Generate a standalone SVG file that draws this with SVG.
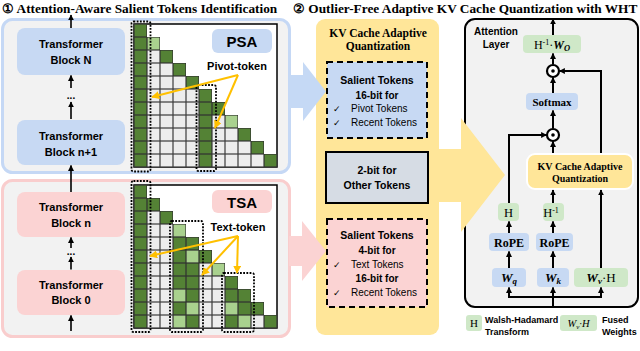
<svg xmlns="http://www.w3.org/2000/svg" width="640" height="351" viewBox="0 0 640 351">
<style>
.ttl{font-family:"Liberation Serif","DejaVu Serif",serif;font-weight:bold;font-size:13.3px;fill:#000}
.sb{font-family:"Liberation Sans","DejaVu Sans",sans-serif;font-weight:bold;fill:#000}
.sr{font-family:"Liberation Sans","DejaVu Sans",sans-serif;fill:#000}
.se{font-family:"Liberation Serif","DejaVu Serif",serif;fill:#000}
.blk-b{fill:#c7d9f3}
.blk-p{fill:#fbd3d3}
.grn{fill:#cfe8c8}
.ln{stroke:#000;stroke-width:1.6;fill:none}
.ln2{stroke:#000;stroke-width:2;fill:none}
.or{stroke:#ffc000;stroke-width:2;fill:none}
.dot{fill:none;stroke:#000;stroke-width:1.8;stroke-dasharray:1.8 1.4}
</style>
<defs>
<marker id="ah" markerUnits="userSpaceOnUse" viewBox="0 0 10 10" refX="9" refY="5" markerWidth="6" markerHeight="6" orient="auto"><path d="M0,0 L10,5 L0,10 z" fill="#000"/></marker>
<marker id="ao" markerUnits="userSpaceOnUse" viewBox="0 0 10 10" refX="9" refY="5" markerWidth="8" markerHeight="8" orient="auto"><path d="M0,0 L10,5 L0,10 z" fill="#ffc000"/></marker>
<pattern id="pg1" patternUnits="userSpaceOnUse" x="134" y="24" width="13" height="13"><rect width="13" height="13" fill="#ededed" stroke="#3a3a3a" stroke-width="1.2"/></pattern>
<pattern id="pd1" patternUnits="userSpaceOnUse" x="134" y="24" width="13" height="13"><rect width="13" height="13" fill="#548235" stroke="#2f2f2f" stroke-width="1.2"/></pattern>
<pattern id="pl1" patternUnits="userSpaceOnUse" x="134" y="24" width="13" height="13"><rect width="13" height="13" fill="#a9d18e" stroke="#2f2f2f" stroke-width="1.2"/></pattern>
<pattern id="pg2" patternUnits="userSpaceOnUse" x="134" y="185" width="13" height="13"><rect width="13" height="13" fill="#ededed" stroke="#3a3a3a" stroke-width="1.2"/></pattern>
<pattern id="pd2" patternUnits="userSpaceOnUse" x="134" y="185" width="13" height="13"><rect width="13" height="13" fill="#548235" stroke="#2f2f2f" stroke-width="1.2"/></pattern>
<pattern id="pl2" patternUnits="userSpaceOnUse" x="134" y="185" width="13" height="13"><rect width="13" height="13" fill="#a9d18e" stroke="#2f2f2f" stroke-width="1.2"/></pattern>
</defs>

<rect width="640" height="351" fill="#fff"/>

<!-- titles -->
<text class="ttl" x="2" y="12.5">① Attention-Aware Salient Tokens Identification</text>
<text class="ttl" x="293" y="12.5">② Outlier-Free Adaptive KV Cache Quantization with WHT</text>

<!-- panels -->
<g id="panel-psa">
<rect x="2.5" y="19.5" width="287" height="153" rx="10" fill="#f2f2f2" stroke="#c5d8f5" stroke-width="3"/>
</g>
<g id="panel-tsa">
<rect x="2.5" y="180.5" width="287" height="156" rx="10" fill="#f2f2f2" stroke="#f9cdcd" stroke-width="3"/>
</g>
<g id="panel-kvq">
<rect x="316" y="19" width="123" height="316" rx="9" fill="#ffe699"/>
</g>
<g id="panel-attn">
<rect x="465" y="19" width="173" height="288" rx="10" fill="#f2f2f2" stroke="#000" stroke-width="2"/>
</g>

<!-- big block arrows -->
<g id="big-arrows">
<path d="M289,75 L303,75 L303,62 L326,91.5 L303,121 L303,108 L289,108 Z" fill="#c5d9f5"/>
<path d="M289,236 L302,236 L302,221 L326,251 L302,281 L302,266 L289,266 Z" fill="#fbd3d3"/>
<path d="M438,149 L461,149 L461,118 L505,175 L461,232 L461,202 L438,202 Z" fill="#ffe699"/>
</g>

<!-- left blocks -->
<g id="block-N">
<rect class="blk-b" x="17" y="28" width="108" height="47" rx="8"/>
<text class="sb" x="71" y="48" font-size="11" text-anchor="middle">Transformer</text>
<text class="sb" x="71" y="64" font-size="11" text-anchor="middle">Block N</text>
</g>
<g id="block-n1">
<rect class="blk-b" x="17" y="120" width="108" height="45" rx="8"/>
<text class="sb" x="71" y="140" font-size="11" text-anchor="middle">Transformer</text>
<text class="sb" x="71" y="156" font-size="11" text-anchor="middle">Block n+1</text>
</g>
<g id="block-n">
<rect class="blk-p" x="17" y="192" width="108" height="45" rx="8"/>
<text class="sb" x="71" y="211" font-size="11" text-anchor="middle">Transformer</text>
<text class="sb" x="71" y="227" font-size="11" text-anchor="middle">Block n</text>
</g>
<g id="block-0">
<rect class="blk-p" x="17" y="270" width="108" height="45" rx="8"/>
<text class="sb" x="71" y="289" font-size="11" text-anchor="middle">Transformer</text>
<text class="sb" x="71" y="304" font-size="11" text-anchor="middle">Block 0</text>
</g>
<g id="left-dots">
<text class="sb" x="71" y="98.5" font-size="10" text-anchor="middle">...</text>
<text class="sb" x="71" y="254.5" font-size="10" text-anchor="middle">...</text>
</g>

<!-- PSA matrix -->
<g id="psa-matrix">
<rect x="134" y="24" width="143" height="143" fill="#fff" stroke="#000" stroke-width="1.5"/>
<polygon points="134,24 147,24 147,37 160,37 160,50 173,50 173,63 186,63 186,76 199,76 199,89 212,89 212,102 225,102 225,115 238,115 238,128 251,128 251,141 264,141 264,154 277,154 277,167 134,167" fill="url(#pg1)"/>
<rect x="134" y="24" width="13" height="143" fill="url(#pd1)"/>
<rect x="147" y="37" width="13" height="13" fill="url(#pl1)"/>
<rect x="160" y="50" width="13" height="13" fill="url(#pd1)"/>
<rect x="173" y="63" width="13" height="13" fill="url(#pd1)"/>
<rect x="186" y="76" width="13" height="13" fill="url(#pd1)"/>
<rect x="199" y="89" width="13" height="78" fill="url(#pd1)"/>
<rect x="212" y="102" width="13" height="13" fill="url(#pd1)"/>
<rect x="225" y="115" width="13" height="13" fill="url(#pl1)"/>
<rect x="238" y="128" width="13" height="13" fill="url(#pd1)"/>
<rect x="251" y="141" width="13" height="13" fill="url(#pd1)"/>
<rect x="264" y="154" width="13" height="13" fill="url(#pd1)"/>
<rect class="dot" x="131.5" y="21.5" width="19" height="150" rx="2"/>
<rect class="dot" x="196.5" y="85" width="19.5" height="86" rx="2"/>
</g>
<g id="psa-label">
<rect class="blk-b" x="212" y="29" width="60" height="24" rx="6"/>
<text class="sb" x="242" y="47" font-size="15" text-anchor="middle">PSA</text>
<text class="sb" x="237" y="70" font-size="11" text-anchor="middle">Pivot-token</text>
</g>

<!-- TSA matrix -->
<g id="tsa-matrix">
<rect x="134" y="185" width="143" height="143" fill="#fff" stroke="#000" stroke-width="1.5"/>
<polygon points="134,185 147,185 147,198 160,198 160,211 173,211 173,224 186,224 186,237 199,237 199,250 212,250 212,263 225,263 225,276 238,276 238,289 251,289 251,302 264,302 264,315 277,315 277,328 134,328" fill="url(#pg2)"/>
<rect x="134" y="185" width="13" height="143" fill="url(#pd2)"/>
<rect x="147" y="198" width="13" height="13" fill="url(#pd2)"/>
<rect x="160" y="211" width="13" height="13" fill="url(#pd2)"/>
<rect x="173" y="237" width="13" height="52" fill="url(#pd2)"/>
<rect x="173" y="302" width="13" height="13" fill="url(#pd2)"/>
<rect x="186" y="237" width="13" height="13" fill="url(#pd2)"/>
<rect x="186" y="263" width="13" height="39" fill="url(#pd2)"/>
<rect x="186" y="315" width="13" height="13" fill="url(#pd2)"/>
<rect x="199" y="250" width="13" height="13" fill="url(#pd2)"/>
<rect x="225" y="276" width="13" height="26" fill="url(#pd2)"/>
<rect x="225" y="315" width="13" height="13" fill="url(#pd2)"/>
<rect x="238" y="289" width="13" height="26" fill="url(#pd2)"/>
<rect x="251" y="302" width="13" height="13" fill="url(#pd2)"/>
<rect x="264" y="315" width="13" height="13" fill="url(#pd2)"/>
<rect x="173" y="224" width="13" height="13" fill="url(#pl2)"/>
<rect x="173" y="289" width="13" height="13" fill="url(#pl2)"/>
<rect x="173" y="315" width="13" height="13" fill="url(#pl2)"/>
<rect x="186" y="250" width="13" height="13" fill="url(#pl2)"/>
<rect x="186" y="302" width="13" height="13" fill="url(#pl2)"/>
<rect x="212" y="263" width="13" height="13" fill="url(#pl2)"/>
<rect x="225" y="302" width="13" height="13" fill="url(#pl2)"/>
<rect x="238" y="315" width="13" height="13" fill="url(#pl2)"/>
<rect class="dot" x="131.5" y="181" width="19" height="151" rx="2"/>
<rect class="dot" x="170" y="221" width="33" height="111" rx="2"/>
<rect class="dot" x="222" y="273" width="32" height="59" rx="2"/>
</g>
<g id="tsa-label">
<rect class="blk-p" x="212" y="190" width="60" height="23" rx="6"/>
<text class="sb" x="242" y="207.5" font-size="15" text-anchor="middle">TSA</text>
<text class="sb" x="238" y="231" font-size="11" text-anchor="middle">Text-token</text>
</g>

<!-- yellow panel contents -->
<g id="kvq-title">
<text class="se" x="378" y="37" font-size="11.5" font-weight="bold" text-anchor="middle">KV Cache Adaptive</text>
<text class="se" x="378" y="50" font-size="11.5" font-weight="bold" text-anchor="middle">Quantization</text>
</g>
<g id="salient-psa">
<rect x="327" y="62" width="100" height="76" fill="#c7d9f3" stroke="#000" stroke-width="2" stroke-dasharray="6 4"/>
<text class="sb" x="377" y="84" font-size="10.5" text-anchor="middle">Salient Tokens</text>
<text class="sb" x="377" y="98.5" font-size="10" text-anchor="middle">16-bit for</text>
<text class="sr" x="333" y="111.5" font-size="9">✓</text>
<text class="sr" x="351" y="111.5" font-size="10">Pivot Tokens</text>
<text class="sr" x="333" y="125.5" font-size="9">✓</text>
<text class="sr" x="351" y="125.5" font-size="10">Recent Tokens</text>
</g>
<g id="other-tokens">
<rect x="326" y="152" width="102" height="51" fill="#d6dce4" stroke="#000" stroke-width="2"/>
<text class="sb" x="377" y="174" font-size="10.5" text-anchor="middle">2-bit for</text>
<text class="sb" x="377" y="189" font-size="10.5" text-anchor="middle">Other Tokens</text>
</g>
<g id="salient-tsa">
<rect x="327" y="219" width="100" height="88" fill="#fbd3d3" stroke="#000" stroke-width="2" stroke-dasharray="6 4"/>
<text class="sb" x="377" y="239" font-size="10.5" text-anchor="middle">Salient Tokens</text>
<text class="sb" x="377" y="253.5" font-size="10" text-anchor="middle">4-bit for</text>
<text class="sr" x="333" y="267.5" font-size="9">✓</text>
<text class="sr" x="351" y="267.5" font-size="10">Text Tokens</text>
<text class="sb" x="377" y="281.5" font-size="10" text-anchor="middle">16-bit for</text>
<text class="sr" x="333" y="295.5" font-size="9">✓</text>
<text class="sr" x="351" y="295.5" font-size="10">Recent Tokens</text>
</g>

<!-- attention layer -->
<g id="attn-label">
<text class="sb" x="496" y="35" font-size="10" text-anchor="middle">Attention</text>
<text class="sb" x="496" y="48" font-size="10" text-anchor="middle">Layer</text>
</g>
<g id="wo">
<rect class="grn" x="523" y="35" width="58" height="18" rx="4"/>
<text class="se" x="552" y="48.5" font-size="12" text-anchor="middle">H<tspan font-size="8" dy="-4">-1</tspan><tspan dy="4">·</tspan><tspan font-weight="bold" font-style="italic">W</tspan><tspan font-size="8.5" font-weight="bold" font-style="italic" dy="2">O</tspan></text>
</g>
<g id="mul1">
<circle cx="553" cy="71" r="6" fill="#fff" stroke="#000" stroke-width="2.2"/>
<circle cx="553" cy="71" r="1.8" fill="#000"/>
</g>
<g id="softmax">
<rect class="blk-b" x="526" y="93" width="52" height="17" rx="4"/>
<text class="se" x="552" y="105.5" font-size="11" font-weight="bold" text-anchor="middle">Softmax</text>
</g>
<g id="mul2">
<circle cx="553" cy="135" r="6" fill="#fff" stroke="#000" stroke-width="2.2"/>
<circle cx="553" cy="135" r="1.8" fill="#000"/>
</g>
<g id="kv-box">
<rect x="527" y="154" width="106" height="35" rx="8" fill="#ffe699" stroke="#fff" stroke-width="2"/>
<text class="se" x="580" y="169.5" font-size="10" font-weight="bold" text-anchor="middle">KV Cache Adaptive</text>
<text class="se" x="580" y="181.5" font-size="10" font-weight="bold" text-anchor="middle">Quantization</text>
</g>
<g id="h-q">
<rect class="grn" x="498" y="203" width="21" height="18" rx="4"/>
<text class="se" x="508.5" y="216.5" font-size="12.5" text-anchor="middle">H</text>
</g>
<g id="h-k">
<rect class="grn" x="543" y="203" width="21" height="18" rx="4"/>
<text class="se" x="551" y="216.5" font-size="12.5" text-anchor="middle">H<tspan font-size="8" dy="-4">-1</tspan></text>
</g>
<g id="rope-q">
<rect class="blk-b" x="489" y="233" width="40" height="18" rx="4"/>
<text class="se" x="509" y="246.5" font-size="12" font-weight="bold" text-anchor="middle">RoPE</text>
</g>
<g id="rope-k">
<rect class="blk-b" x="536" y="233" width="37" height="18" rx="4"/>
<text class="se" x="554.5" y="246.5" font-size="12" font-weight="bold" text-anchor="middle">RoPE</text>
</g>
<g id="wq">
<rect class="blk-b" x="492" y="268" width="34" height="19" rx="4"/>
<text class="se" x="509" y="281.5" font-size="13" font-weight="bold" font-style="italic" text-anchor="middle">W<tspan font-size="9" dy="2.5">q</tspan></text>
</g>
<g id="wk">
<rect class="blk-b" x="537" y="268" width="32" height="19" rx="4"/>
<text class="se" x="553" y="281.5" font-size="13" font-weight="bold" font-style="italic" text-anchor="middle">W<tspan font-size="9" dy="2.5">k</tspan></text>
</g>
<g id="wv">
<rect class="grn" x="574" y="268" width="54" height="19" rx="4"/>
<text class="se" x="601" y="281.5" font-size="13" text-anchor="middle"><tspan font-weight="bold" font-style="italic">W</tspan><tspan font-size="9" font-weight="bold" font-style="italic" dy="2.5">v</tspan><tspan dy="-2.5">·H</tspan></text>
</g>

<!-- legend -->
<g id="legend-h">
<rect class="grn" x="466" y="315" width="16" height="16" rx="3"/>
<text class="se" x="474" y="327" font-size="11" text-anchor="middle">H</text>
<text class="sb" x="485" y="322.5" font-size="9">Walsh-Hadamard</text>
<text class="sb" x="485" y="335" font-size="9">Transform</text>
</g>
<g id="legend-wv">
<rect class="grn" x="560" y="315" width="37" height="16" rx="3"/>
<text class="se" x="578.5" y="327" font-size="10.5" font-style="italic" text-anchor="middle">W<tspan font-size="7" dy="2">v</tspan><tspan dy="-2">·H</tspan></text>
<text class="sb" x="602" y="322.5" font-size="9">Fused</text>
<text class="sb" x="602" y="335" font-size="9">Weights</text>
</g>

<!-- connectors -->
<g id="connectors">
<line class="ln" x1="71" y1="28" x2="71" y2="15" marker-end="url(#ah)"/>
<line class="ln" x1="71" y1="88" x2="71" y2="75.5" marker-end="url(#ah)"/>
<line class="ln" x1="71" y1="119" x2="71" y2="102" marker-end="url(#ah)"/>
<line class="ln" x1="71" y1="192" x2="71" y2="165.5" marker-end="url(#ah)"/>
<line class="ln" x1="71" y1="248" x2="71" y2="237.5" marker-end="url(#ah)"/>
<line class="ln" x1="71" y1="269.5" x2="71" y2="257" marker-end="url(#ah)"/>
<line class="ln" x1="71" y1="331" x2="71" y2="315.5" marker-end="url(#ah)"/>

<line class="or" x1="238" y1="75" x2="152" y2="97" marker-end="url(#ao)"/>
<line class="or" x1="238" y1="75" x2="215" y2="128" marker-end="url(#ao)"/>
<line class="or" x1="238" y1="236" x2="150" y2="256" marker-end="url(#ao)"/>
<line class="or" x1="238" y1="236" x2="202" y2="275" marker-end="url(#ao)"/>
<line class="or" x1="238" y1="236" x2="237" y2="273" marker-end="url(#ao)"/>

<line class="ln2" x1="553" y1="35" x2="553" y2="19" marker-end="url(#ah)"/>
<line class="ln2" x1="553" y1="64.5" x2="553" y2="53.5" marker-end="url(#ah)"/>
<line class="ln2" x1="553" y1="93" x2="553" y2="77.5" marker-end="url(#ah)"/>
<line class="ln2" x1="553" y1="128.5" x2="553" y2="110.5" marker-end="url(#ah)"/>
<line class="ln2" x1="553" y1="153" x2="553" y2="141.5" marker-end="url(#ah)"/>
<polyline class="ln2" points="601,153 601,71 559.5,71" marker-end="url(#ah)"/>
<polyline class="ln2" points="509,203 509,135 546.5,135" marker-end="url(#ah)"/>
<line class="ln2" x1="553" y1="203" x2="553" y2="190" marker-end="url(#ah)"/>
<line class="ln2" x1="601" y1="268" x2="601" y2="190" marker-end="url(#ah)"/>
<line class="ln2" x1="509" y1="233" x2="509" y2="221.5" marker-end="url(#ah)"/>
<line class="ln2" x1="553" y1="233" x2="553" y2="221.5" marker-end="url(#ah)"/>
<line class="ln2" x1="509" y1="268" x2="509" y2="251.5" marker-end="url(#ah)"/>
<line class="ln2" x1="553" y1="268" x2="553" y2="251.5" marker-end="url(#ah)"/>
<polyline class="ln2" points="553,307 553,297"/>
<line class="ln2" x1="508" y1="297" x2="602" y2="297"/>
<line class="ln2" x1="509" y1="297" x2="509" y2="287.5" marker-end="url(#ah)"/>
<line class="ln2" x1="553" y1="297" x2="553" y2="287.5" marker-end="url(#ah)"/>
<line class="ln2" x1="601" y1="297" x2="601" y2="287.5" marker-end="url(#ah)"/>
</g>
</svg>
